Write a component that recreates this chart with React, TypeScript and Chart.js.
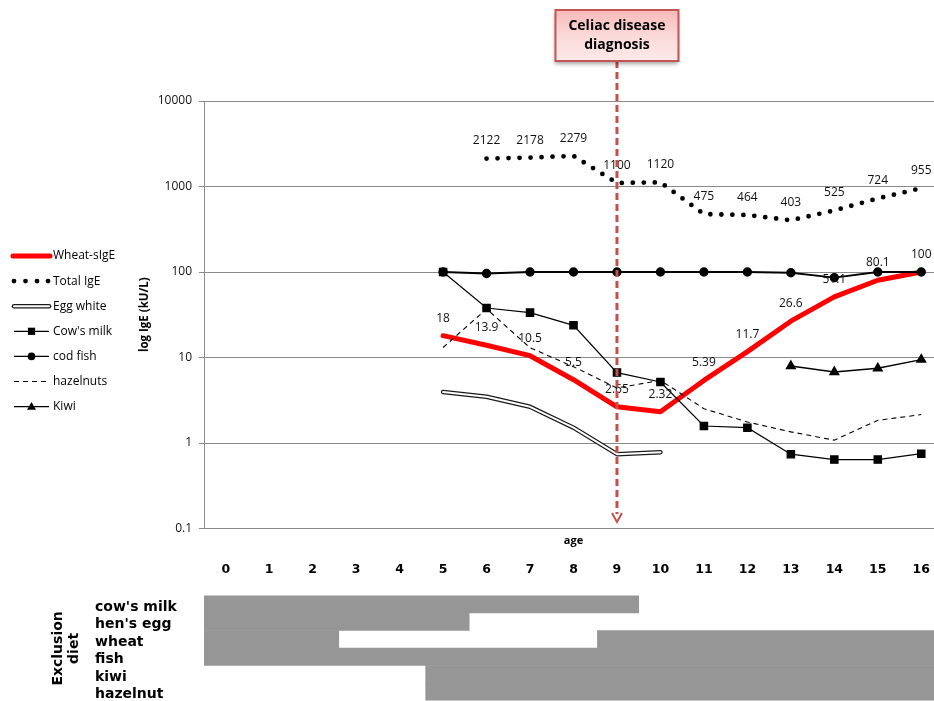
import React, { useEffect, useRef } from 'react';
import { Chart, registerables } from 'chart.js';

Chart.register(...registerables);

// ---------- data ----------
const ages = ['0', '1', '2', '3', '4', '5', '6', '7', '8', '9', '10', '11', '12', '13', '14', '15', '16'];
const wheatSIgE = [null, null, null, null, null, 18, 13.9, 10.5, 5.5, 2.65, 2.32, 5.39, 11.7, 26.6, 51.1, 80.1, 100];
const totalIgE = [null, null, null, null, null, null, 2122, 2178, 2279, 1100, 1120, 475, 464, 403, 525, 724, 955];
const eggWhite = [null, null, null, null, null, 3.94, 3.47, 2.65, 1.51, 0.74, 0.78, null, null, null, null, null, null];
const cowsMilk = [null, null, null, null, null, 100, 37.9, 33.5, 23.8, 6.66, 5.17, 1.58, 1.51, 0.74, 0.64, 0.64, 0.75];
const codFish = [null, null, null, null, null, 100, 96, 100, 100, 100, 100, 100, 100, 98, 86, 100, 100];
const hazelnuts = [null, null, null, null, null, 13.1, 37, 13, 7.8, 4.4, 5.4, 2.52, 1.76, 1.35, 1.08, 1.84, 2.15];
const kiwi = [null, null, null, null, null, null, null, null, null, null, null, null, null, 7.95, 6.77, 7.48, 9.45];
const yTickValues = [0.1, 1, 10, 100, 1000, 10000];
const diagnosisAge = 9;

const dietRows = ["cow's milk", "hen's egg", 'wheat', 'fish', 'kiwi', 'hazelnut'];
const dietStart = [0, 0, 0, 0, 5.1, 5.1];
const dietEnd = [10, 6.1, 3.1, 17, 17, 17];
const dietResumeStart = [null, null, 9.05, null, null, null];
const dietResumeEnd = [null, null, 17, null, null, null];

const legendNames = ['Wheat-sIgE', 'Total IgE', 'Egg white', "Cow's milk", 'cod fish', 'hazelnuts', 'Kiwi'];

const FONT = "'Open Sans', 'Liberation Sans', sans-serif";
const BOLD = "'DejaVu Sans', 'Liberation Sans', sans-serif";

const valueLabelPlugin = {
  id: 'valueLabels',
  afterDatasetsDraw(chart: any) {
    const ctx = chart.ctx;
    ctx.save();
    ctx.font = `12px ${FONT}`;
    ctx.fillStyle = '#111';
    ctx.textAlign = 'center';
    ctx.textBaseline = 'middle';
    chart.data.datasets.forEach((ds: any, i: number) => {
      if (!ds.showValues) return;
      const meta = chart.getDatasetMeta(i);
      meta.data.forEach((pt: any, j: number) => {
        const v = ds.data[j];
        if (v == null) return;
        ctx.fillText(String(v), pt.x, pt.y - 17.5);
      });
    });
    ctx.restore();
  },
};

const legendPlugin = {
  id: 'sideLegend',
  afterDraw(chart: any) {
    const ctx = chart.ctx;
    const x0 = 13, x1 = 50, tx = 53;
    ctx.save();
    legendNames.forEach((name, i) => {
      const y = 256 + i * 25.1;
      const mid = (x0 + x1) / 2;
      ctx.setLineDash([]);
      ctx.lineCap = 'butt';
      if (i === 0) {
        ctx.strokeStyle = '#ff0000'; ctx.lineWidth = 5; ctx.lineCap = 'round';
        ctx.beginPath(); ctx.moveTo(x0, y); ctx.lineTo(x1, y); ctx.stroke();
      } else if (i === 1) {
        ctx.fillStyle = '#000';
        [14, 25.5, 37, 48].forEach((dx) => { ctx.beginPath(); ctx.arc(dx, y, 2.4, 0, Math.PI * 2); ctx.fill(); });
      } else if (i === 2) {
        ctx.lineCap = 'round';
        ctx.strokeStyle = '#1a1a1a'; ctx.lineWidth = 4.5;
        ctx.beginPath(); ctx.moveTo(x0 + 1, y); ctx.lineTo(x1 - 1, y); ctx.stroke();
        ctx.strokeStyle = '#fff'; ctx.lineWidth = 2;
        ctx.beginPath(); ctx.moveTo(x0 + 1, y); ctx.lineTo(x1 - 1, y); ctx.stroke();
      } else if (i === 5) {
        ctx.strokeStyle = '#000'; ctx.lineWidth = 1; ctx.setLineDash([5, 4]);
        ctx.beginPath(); ctx.moveTo(x0 + 1, y); ctx.lineTo(x1 - 3, y); ctx.stroke();
        ctx.setLineDash([]);
      } else {
        ctx.strokeStyle = '#000'; ctx.lineWidth = 1.3;
        ctx.beginPath(); ctx.moveTo(x0 + 1, y); ctx.lineTo(x1 - 1, y); ctx.stroke();
        ctx.fillStyle = '#000';
        if (i === 3) ctx.fillRect(mid - 3.6, y - 3.6, 7.2, 7.2);
        if (i === 4) { ctx.beginPath(); ctx.arc(mid, y, 3.8, 0, Math.PI * 2); ctx.fill(); }
        if (i === 6) {
          ctx.beginPath(); ctx.moveTo(mid, y - 4.5); ctx.lineTo(mid + 4.5, y + 3.2); ctx.lineTo(mid - 4.5, y + 3.2); ctx.closePath(); ctx.fill();
        }
      }
      ctx.font = `12px ${FONT}`;
      ctx.fillStyle = '#000';
      ctx.textAlign = 'left';
      ctx.textBaseline = 'middle';
      ctx.fillText(name, tx, y);
    });
    ctx.restore();
  },
};

const calloutPlugin = {
  id: 'callout',
  afterDraw(chart: any) {
    const ctx = chart.ctx;
    const area = chart.chartArea;
    const xs = chart.scales.x;
    const px = xs.getPixelForValue(diagnosisAge);
    ctx.save();
    // "age" title
    ctx.font = `bold 11px ${FONT}`;
    ctx.fillStyle = '#000';
    ctx.textAlign = 'center';
    ctx.textBaseline = 'middle';
    ctx.fillText('age', (area.left + area.right) / 2, area.bottom + 12);

    // age numbers, positioned by the category scale
    ctx.font = `bold 12.5px ${BOLD}`;
    ages.forEach((a, i) => {
      ctx.fillText(a, xs.getPixelForValue(i), area.bottom + 41);
    });

    // dashed arrow
    const color = '#c4504e';
    ctx.strokeStyle = color;
    ctx.lineWidth = 3;
    ctx.setLineDash([7, 4]);
    ctx.beginPath();
    ctx.moveTo(px, 61);
    ctx.lineTo(px, 514);
    ctx.stroke();
    ctx.setLineDash([]);
    ctx.lineWidth = 2;
    ctx.beginPath();
    ctx.moveTo(px - 5, 513);
    ctx.lineTo(px, 522);
    ctx.lineTo(px + 5, 513);
    ctx.stroke();

    // box
    const w = 123, h = 51, bx = px - w / 2, by = 10;
    ctx.shadowColor = 'rgba(0,0,0,0.35)';
    ctx.shadowBlur = 4;
    ctx.shadowOffsetY = 3;
    const g = ctx.createLinearGradient(0, by, 0, by + h);
    g.addColorStop(0, '#f7b9b9');
    g.addColorStop(0.5, '#fbd9d9');
    g.addColorStop(1, '#fde9e9');
    ctx.fillStyle = g;
    ctx.fillRect(bx, by, w, h);
    ctx.shadowColor = 'transparent';
    ctx.strokeStyle = '#c25654';
    ctx.lineWidth = 2;
    ctx.strokeRect(bx, by, w, h);
    ctx.fillStyle = '#000';
    ctx.font = `bold 14px ${FONT}`;
    ctx.fillText('Celiac disease', px, by + 16);
    ctx.fillText('diagnosis', px, by + 35);
    ctx.restore();
  },
};

const dietTitlePlugin = {
  id: 'dietTitle',
  afterDraw(chart: any) {
    const ctx = chart.ctx;
    const area = chart.chartArea;
    const cy = area.top + 53;
    [['Exclusion', 58], ['diet', 74]].forEach(([t, x]) => {
      ctx.save();
      ctx.font = `bold 14px ${BOLD}`;
      ctx.fillStyle = '#000';
      ctx.textAlign = 'center';
      ctx.textBaseline = 'middle';
      ctx.translate(x as number, cy);
      ctx.rotate(-Math.PI / 2);
      ctx.fillText(t as string, 0, 0);
      ctx.restore();
    });
  },
};

export default function App() {
  const mainRef = useRef<HTMLCanvasElement | null>(null);
  const dietRef = useRef<HTMLCanvasElement | null>(null);

  useEffect(() => {
    const line = (extra: any) => ({
      type: 'line',
      pointRadius: 0,
      borderColor: '#000',
      backgroundColor: '#000',
      borderWidth: 1.3,
      tension: 0,
      spanGaps: false,
      ...extra,
    });

    const main = new Chart(mainRef.current as HTMLCanvasElement, {
      type: 'line',
      data: {
        labels: ages,
        datasets: [
          line({ label: 'Wheat-sIgE', data: wheatSIgE, borderColor: '#ff0000', borderWidth: 5, borderJoinStyle: 'round', borderCapStyle: 'round', order: 10, showValues: true }),
          line({ label: 'Total IgE', data: totalIgE, borderWidth: 4.8, borderDash: [0, 11], borderCapStyle: 'round', order: 9, showValues: true }),
          line({ label: 'Egg white', data: eggWhite, borderColor: '#1a1a1a', borderWidth: 4.5, borderCapStyle: 'round', borderJoinStyle: 'round', order: 8 }),
          line({ label: 'Egg white inner', data: eggWhite, borderColor: '#ffffff', borderWidth: 2, borderCapStyle: 'round', borderJoinStyle: 'round', order: 7 }),
          line({ label: 'hazelnuts', data: hazelnuts, borderWidth: 1.1, borderDash: [5, 4], order: 6 }),
          line({ label: 'cod fish', data: codFish, borderWidth: 1.8, pointRadius: 3.8, pointStyle: 'circle', order: 5 }),
          line({ label: 'Kiwi', data: kiwi, borderWidth: 1.4, pointRadius: 5, pointStyle: 'triangle', order: 4 }),
          line({ label: "Cow's milk", data: cowsMilk, borderWidth: 1.2, pointRadius: 5.2, pointStyle: 'rect', order: 3 }),
        ],
      } as any,
      options: {
        responsive: false,
        animation: false,
        devicePixelRatio: 1,
        events: [],
        layout: { padding: { left: 138, right: 7, top: 101, bottom: 0 } },
        plugins: { legend: { display: false }, tooltip: { enabled: false } },
        scales: {
          x: {
            type: 'category',
            offset: true,
            grid: { display: false, drawTicks: false },
            border: { display: false },
            ticks: { display: false },
            afterFit: (s: any) => { s.height = 61.5; },
          },
          y: {
            type: 'logarithmic',
            min: 0.1,
            max: 10000,
            afterBuildTicks: (s: any) => { s.ticks = yTickValues.map((v) => ({ value: v, major: true })); },
            ticks: {
              callback: (v: any) => String(v),
              font: { family: FONT, size: 12 },
              color: '#111',
              padding: 7,
              autoSkip: false,
            },
            grid: { color: '#8a8a8a', tickLength: 5, lineWidth: 1 },
            border: { color: '#8a8a8a' },
            title: {
              display: true,
              text: 'log IgE (kU/L)',
              font: { family: FONT, weight: 'bold', size: 11.5 },
              color: '#000',
              padding: 0,
            },
            afterFit: (s: any) => { s.width = 66; },
          },
        },
      } as any,
      plugins: [valueLabelPlugin, legendPlugin, calloutPlugin],
    });

    const diet = new Chart(dietRef.current as HTMLCanvasElement, {
      type: 'bar',
      data: {
        labels: dietRows,
        datasets: [
          {
            data: dietStart.map((s, i) => [s, dietEnd[i]]),
            backgroundColor: '#969696',
            borderWidth: 0,
            barPercentage: 1,
            categoryPercentage: 1,
            grouped: false,
          },
          {
            data: dietResumeStart.map((s, i) => (s == null ? null : [s, dietResumeEnd[i]])),
            backgroundColor: '#969696',
            borderWidth: 0,
            barPercentage: 1,
            categoryPercentage: 1,
            grouped: false,
          },
        ],
      } as any,
      options: {
        indexAxis: 'y',
        responsive: false,
        animation: false,
        devicePixelRatio: 1,
        events: [],
        layout: { padding: { left: 95, right: 7, top: 0, bottom: 0 } },
        plugins: { legend: { display: false }, tooltip: { enabled: false } },
        scales: {
          x: { type: 'linear', min: 0, max: 17, display: false },
          y: {
            type: 'category',
            grid: { display: false, drawTicks: false },
            border: { display: false },
            ticks: {
              crossAlign: 'far',
              font: { family: BOLD, weight: 'bold', size: 14 },
              color: '#000',
              padding: 0,
              labelOffset: 3,
              autoSkip: false,
            },
            afterFit: (s: any) => { s.width = 109; },
          },
        },
      } as any,
      plugins: [dietTitlePlugin],
    });

    return () => {
      main.destroy();
      diet.destroy();
    };
  }, []);

  return (
    <div style={{ position: 'fixed', left: 0, top: 0, width: 934, height: 701, overflow: 'hidden', background: '#fff' }}>
      <canvas ref={mainRef} width={950} height={590} style={{ position: 'absolute', left: 0, top: 0, width: 950, height: 590 }} />
      <canvas ref={dietRef} width={950} height={122} style={{ position: 'absolute', left: 0, top: 587, width: 950, height: 122 }} />
    </div>
  );
}
